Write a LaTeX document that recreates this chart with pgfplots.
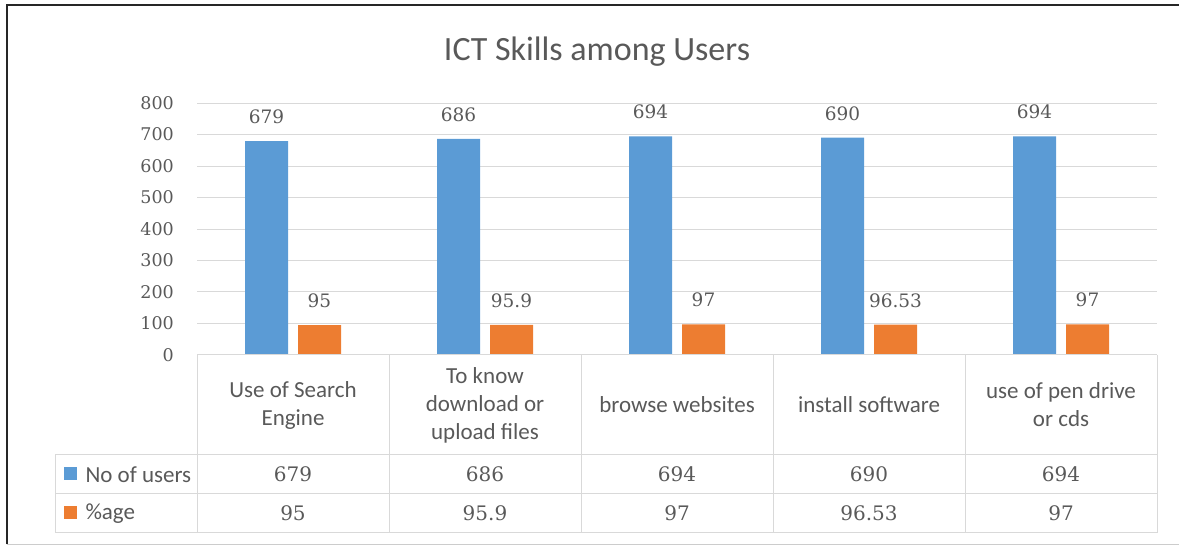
\documentclass[border=0pt]{standalone}
\usepackage{fontspec}
\setmainfont{Carlito}
\newfontfamily\numfont{DejaVu Serif}
\usepackage{pgfplots}
\pgfplotsset{compat=1.18}
\definecolor{cblue}{HTML}{5B9BD5}
\definecolor{corange}{HTML}{ED7D31}
\definecolor{txt}{HTML}{595959}
\definecolor{gridc}{HTML}{D9D9D9}
\begin{document}
\begin{tikzpicture}[x=1pt,y=1pt]
\useasboundingbox (0,0) rectangle (1179,546);
% frame
\draw[black!85, line width=2pt] (7,1.5) -- (7,541) -- (1179,541);
\draw[gray!40, line width=0.8pt] (7,1.5) -- (1179,1.5);
% title
\node[text=txt, font=\fontsize{34}{40}\selectfont] at (597,494) {ICT Skills among Users};
\begin{axis}[
  at={(197pt,191pt)}, anchor=south west,
  scale only axis, width=960pt, height=252pt,
  xmin=-0.5, xmax=4.5, ymin=0, ymax=800,
  ytick={0,100,...,800}, xtick=\empty,
  ymajorgrids, grid style={gridc, line width=1pt},
  axis line style={draw=none}, major tick style={draw=none},
  yticklabel style={anchor=east, inner sep=0pt, xshift=-23pt, text=txt, font=\numfont\fontsize{17.5}{21}\selectfont},
  /pgf/number format/assume math mode=true,
  ybar=10pt, bar width=43pt,
  nodes near coords, point meta=explicit symbolic,
  every node near coord/.append style={anchor=south, inner sep=0pt, yshift=17pt, text=txt, font=\numfont\fontsize{18.5}{22}\selectfont},
  clip=false,
]
\addplot[fill=cblue, draw=none] coordinates {(0,679) [679] (1,686) [686] (2,694) [694] (3,690) [690] (4,694) [694]};
\addplot[fill=corange, draw=none] coordinates {(0,95) [95] (1,95.9) [95.9] (2,97) [97] (3,96.53) [96.53] (4,97) [97]};
\end{axis}
% data table
\begin{scope}[gridc, line width=1pt]
\draw (197,191) -- (1157,191);
\draw (55,91) -- (1157,91);
\draw (55,52) -- (1157,52);
\draw (55,13) -- (1157,13);
\foreach \xx in {197,389,581,773,965,1157} \draw (\xx,191) -- (\xx,13);
\draw (55,91) -- (55,13);
\end{scope}
\begin{scope}[every node/.style={text=txt, font=\fontsize{23}{28}\selectfont, align=center}]
\node at (293,141) {Use of Search\\Engine};
\node at (485,141) {To know\\download or\\upload files};
\node at (677,141) {browse websites};
\node at (869,141) {install software};
\node at (1061,141) {use of pen drive\\or cds};
\node[anchor=west] at (82,71.5) {No of users};
\node[anchor=west] at (82,32.5) {\%age};
\end{scope}
\begin{scope}[every node/.style={text=txt, font=\numfont\fontsize{20}{24}\selectfont}]
\node at (293,71.5) {679};
\node at (485,71.5) {686};
\node at (677,71.5) {694};
\node at (869,71.5) {690};
\node at (1061,71.5) {694};
\node at (293,32.5) {95};
\node at (485,32.5) {95.9};
\node at (677,32.5) {97};
\node at (869,32.5) {96.53};
\node at (1061,32.5) {97};
\end{scope}
\fill[cblue] (64,65.5) rectangle (77,78.5);
\fill[corange] (64,26.5) rectangle (77,39.5);
\end{tikzpicture}
\end{document}
